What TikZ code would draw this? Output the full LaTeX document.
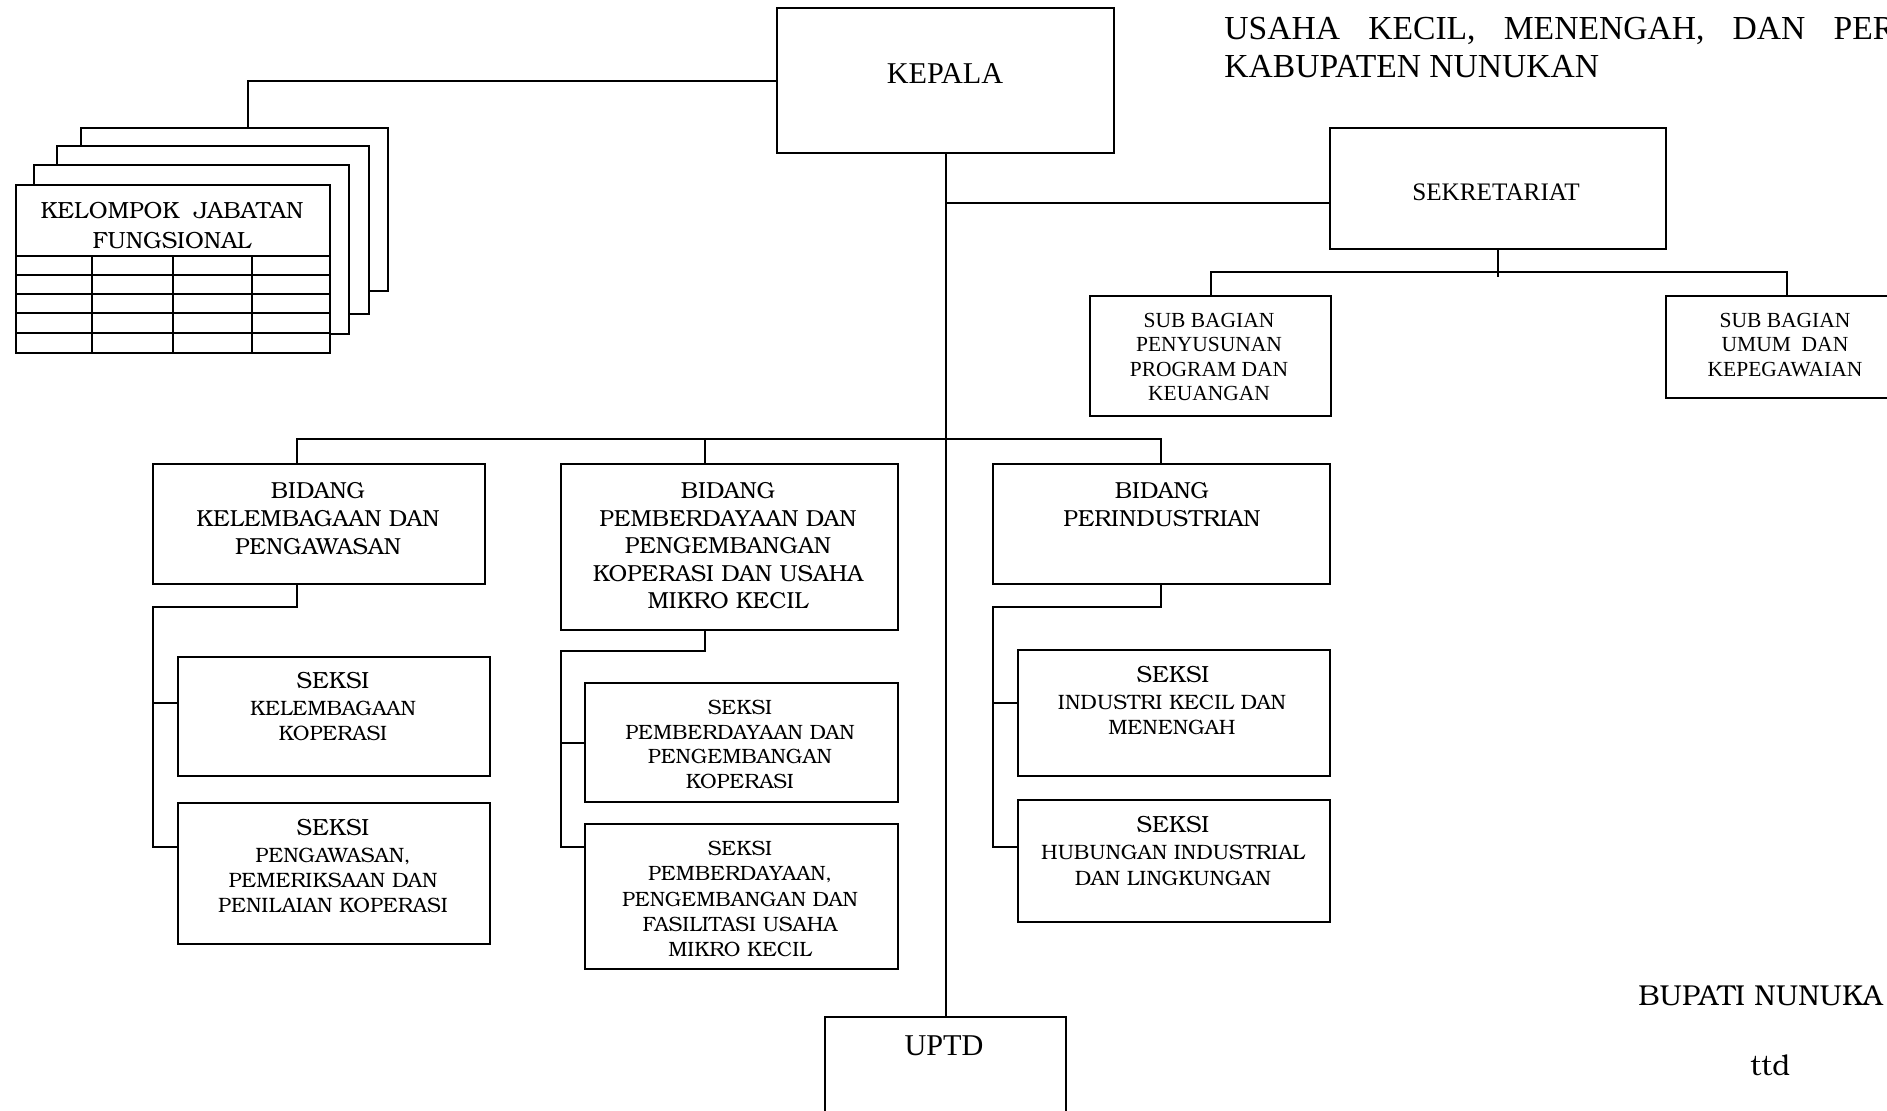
\documentclass[tikz,border=0pt]{standalone}
\usepackage{fontspec}
\setmainfont{Liberation Serif}
\newfontfamily\bkfont{texgyrebonum-regular.otf}
\newcommand\fzTitle{\fontsize{16.8}{19}\selectfont}
\newcommand\fzKep{\fontsize{15.1}{18}\selectfont}
\newcommand\fzSek{\fontsize{12.6}{15}\selectfont}
\newcommand\fzSub{\fontsize{10.75}{12.15}\selectfont}
\newcommand\fzBid{\bkfont\fontsize{11.6}{14}\selectfont}
\newcommand\fzBidB{\bkfont\fontsize{11.6}{13.75}\selectfont}
\newcommand\fzSeksi{\bkfont\fontsize{11.7}{14}\selectfont}
\newcommand\fzSmall{\bkfont\fontsize{10.4}{12.5}\selectfont}
\newcommand\fzSmallB{\bkfont\fontsize{10.4}{13}\selectfont}
\newcommand\fzTwoA{\bkfont\fontsize{10.35}{12.3}\selectfont}
\newcommand\fzTwoB{\bkfont\fontsize{10.35}{12.6}\selectfont}
\newcommand\fzKjf{\bkfont\fontsize{11.7}{15}\selectfont}
\newcommand\fzBup{\bkfont\fontsize{14.4}{17}\selectfont}
\tikzset{
  box/.style={draw, line width=1pt, inner sep=0pt, anchor=north west, fill=white},
  ln/.style={line width=1pt},
  txt/.style={inner sep=0pt, align=center, anchor=north},
  one/.style={inner sep=0pt, anchor=base},
}
\newcommand\mybox[5]{\node[box, minimum width={(#4-#2)*0.5pt}, minimum height={(#5-#3)*0.5pt}] (#1) at (#2,#3) {};}
\begin{document}
\begin{tikzpicture}[x=0.5pt,y=-0.5pt]
\useasboundingbox (0,0) rectangle (1887,1110);
\clip (0,0) rectangle (1887,1110);
\fill[white] (0,0) rectangle (1887,1110);

% title
\node[inner sep=0pt, anchor=base west, font=\fzTitle] (t1) at (1224,39) {\makebox[335.5pt][s]{USAHA KECIL, MENENGAH, DAN PER}};
\node[inner sep=0pt, anchor=base west, font=\fzTitle] (t2) at (1224,77) {KABUPATEN NUNUKAN};

% boxes
\mybox{kepala}{776}{7}{1113}{152}
\mybox{sek}{1329}{127}{1665}{248}
\mybox{sbp}{1089}{295}{1330}{415}
\mybox{sbu}{1665}{295}{1906}{397}
\mybox{bA}{152}{463}{484}{583}
\mybox{bB}{560}{463}{897}{629}
\mybox{bC}{992}{463}{1329}{583}
\mybox{sAa}{177}{656}{489}{775}
\mybox{sAb}{177}{802}{489}{943}
\mybox{sBa}{584}{682}{897}{801}
\mybox{sBb}{584}{823}{897}{968}
\mybox{sCa}{1017}{649}{1329}{775}
\mybox{sCb}{1017}{799}{1329}{921}
\mybox{uptd}{824}{1016}{1065}{1130}
% kelompok jabatan fungsional stack
\mybox{kD}{80}{127}{387}{290}
\mybox{kC}{56}{145}{368}{313}
\mybox{kB}{33}{164}{348}{333}
\mybox{kA}{15}{184}{329}{352}
\foreach \yy in {256,275,294,313,333}
  \draw[ln] (kA.west |- 0,\yy) -- (kA.east |- 0,\yy);
\foreach \xx in {92,173,252}
  \draw[ln] (\xx,256) -- (kA.south -| \xx,0);

% connectors
\draw[ln] (kepala.south) -- (uptd.north);
\draw[ln] (kepala.west) -| (kD.north -| 248,0);
\draw[ln] (kepala.south |- 0,203) -- (sek.west |- 0,203);
\draw[ln] (sek.south) -- ++(0,27);
\draw[ln] (sbp.north) -- ++(0,-23) -| (sbu.north);
\coordinate (busA) at (297,439);
\coordinate (busB) at (705,439);
\coordinate (busC) at (1161,439);
\draw[ln] (bA.north -| busA) -- (busA) -- (busC) -- (bC.north -| busC);
\draw[ln] (busB) -- (bB.north -| busB);
\coordinate (jA) at (153,607);
\draw[ln] (bA.south -| 297,0) |- (jA) |- (sAb.west |- 0,847);
\draw[ln] (jA |- 0,703) -- (sAa.west |- 0,703);
\coordinate (jB) at (561,651);
\draw[ln] (bB.south -| 705,0) |- (jB) |- (sBb.west |- 0,847);
\draw[ln] (jB |- 0,743) -- (sBa.west |- 0,743);
\coordinate (jC) at (993,607);
\draw[ln] (bC.south -| 1161,0) |- (jC) |- (sCb.west |- 0,847);
\draw[ln] (jC |- 0,703) -- (sCa.west |- 0,703);

% texts
\node[txt, font=\fzKjf] (kjft) at (172,202) {KELOMPOK\ \ JABATAN\\FUNGSIONAL};
\node[one, font=\fzKep] (kept) at (945,83) {KEPALA};
\node[one, font=\fzSek] (sekt) at (1496,200) {SEKRETARIAT};
\node[txt, font=\fzSub] (sbpt) at (1209,313) {SUB BAGIAN\\PENYUSUNAN\\PROGRAM DAN\\KEUANGAN};
\node[txt, font=\fzSub] (sbut) at (1785,313) {SUB BAGIAN\\UMUM\ \ DAN\\KEPEGAWAIAN};
\node[txt, font=\fzBid] (bAt) at (318,482) {BIDANG\\KELEMBAGAAN DAN\\PENGAWASAN};
\node[txt, font=\fzBidB] (bBt) at (728,482) {BIDANG\\PEMBERDAYAAN DAN\\PENGEMBANGAN\\KOPERASI DAN USAHA\\MIKRO KECIL};
\node[txt, font=\fzBid] (bCt) at (1162,482) {BIDANG\\PERINDUSTRIAN};
\node[one, font=\fzSeksi] (sAah) at (333,688) {SEKSI};
\node[txt, font=\fzSmall] (sAat) at (333,701) {KELEMBAGAAN\\KOPERASI};
\node[one, font=\fzSeksi] (sAbh) at (333,835) {SEKSI};
\node[txt, font=\fzSmall] (sAbt) at (333,848) {PENGAWASAN,\\PEMERIKSAAN DAN\\PENILAIAN KOPERASI};
\node[txt, font=\fzTwoA] (sBat) at (740,700) {SEKSI\\PEMBERDAYAAN DAN\\PENGEMBANGAN\\KOPERASI};
\node[txt, font=\fzTwoB] (sBbt) at (740,841) {SEKSI\\PEMBERDAYAAN,\\PENGEMBANGAN DAN\\FASILITASI USAHA\\MIKRO KECIL};
\node[one, font=\fzSeksi] (sCah) at (1173,682) {SEKSI};
\node[txt, font=\fzSmall] (sCat) at (1172,695) {INDUSTRI KECIL DAN\\MENENGAH};
\node[one, font=\fzSeksi] (sCbh) at (1173,832) {SEKSI};
\node[txt, font=\fzSmallB] (sCbt) at (1173,845) {HUBUNGAN INDUSTRIAL\\DAN LINGKUNGAN};
\node[one, font=\fzKep] (uptdt) at (944,1055) {UPTD};
\node[inner sep=0pt, anchor=base west, font=\fzBup] (bup) at (1638,1005) {BUPATI NUNUKA};
\node[inner sep=0pt, anchor=base west, font=\fzBup] (ttd) at (1750,1075) {ttd};
\end{tikzpicture}
\end{document}
